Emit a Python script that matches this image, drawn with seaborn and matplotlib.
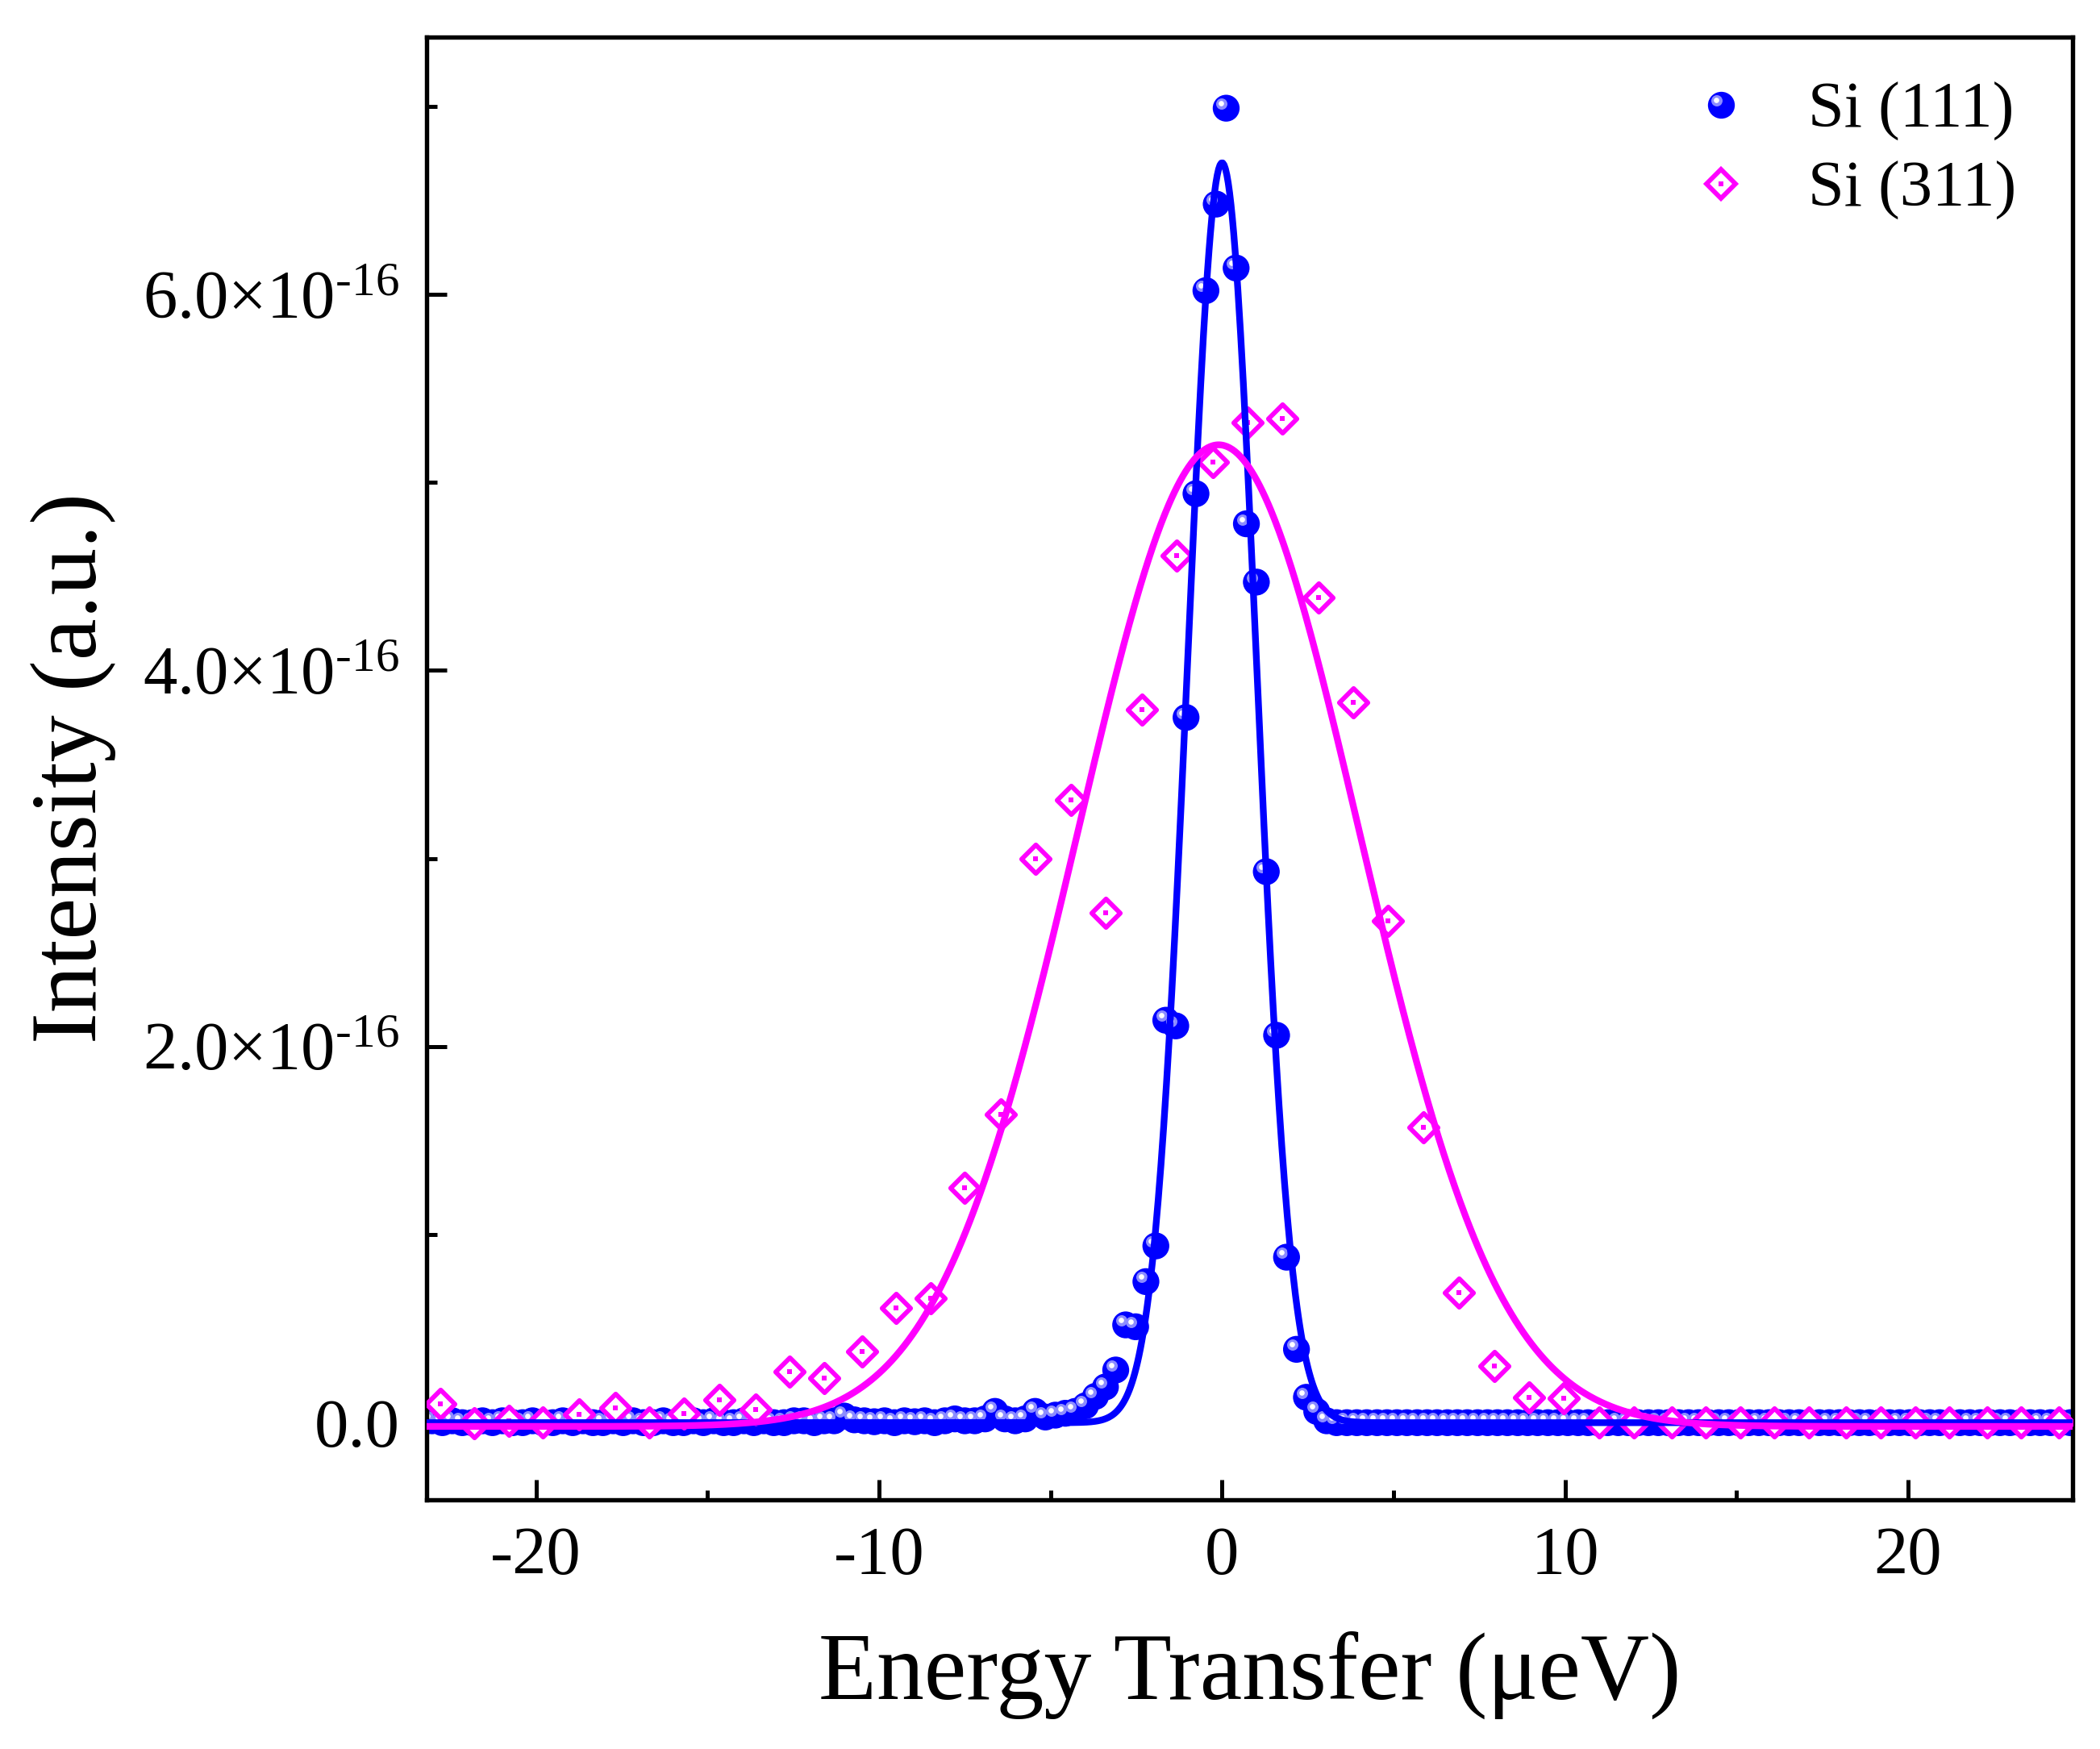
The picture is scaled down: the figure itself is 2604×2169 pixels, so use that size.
import numpy as np
import pandas as pd
import matplotlib
matplotlib.use("Agg")
import matplotlib.pyplot as plt
import seaborn as sns
from matplotlib.path import Path
from matplotlib.lines import Line2D
from matplotlib.ticker import MultipleLocator, AutoMinorLocator, FuncFormatter

# --- Si (111) data (energy in ueV, intensity in units of 1e-16) ---
x_111 = [-23.32, -23.03, -22.73, -22.44, -22.15, -21.86, -21.56, -21.27, -20.98, -20.68,
         -20.39, -20.10, -19.80, -19.51, -19.22, -18.93, -18.63, -18.34, -18.05, -17.75,
         -17.46, -17.17, -16.87, -16.58, -16.29, -16.00, -15.70, -15.41, -15.12, -14.82,
         -14.53, -14.24, -13.94, -13.65, -13.36, -13.07, -12.77, -12.48, -12.19, -11.89,
         -11.60, -11.31, -11.01, -10.72, -10.43, -10.14, -9.84, -9.55, -9.26, -8.96,
         -8.67, -8.38, -8.08, -7.79, -7.50, -7.21, -6.91, -6.62, -6.33, -6.03,
         -5.74, -5.45, -5.15, -4.86, -4.57, -4.28, -3.98, -3.69, -3.40, -3.10,
         -2.81, -2.52, -2.22, -1.93, -1.64, -1.35, -1.05, -0.76, -0.47, -0.17,
         0.12, 0.41, 0.71, 1.00, 1.29, 1.59, 1.88, 2.17, 2.46, 2.76,
         3.05, 3.34, 3.64, 3.93, 4.22, 4.52, 4.81, 5.10, 5.39, 5.69,
         5.98, 6.27, 6.57, 6.86, 7.15, 7.45, 7.74, 8.03, 8.32, 8.62,
         8.91, 9.20, 9.50, 9.79, 10.08, 10.38, 10.67, 10.96, 11.25, 11.55,
         11.84, 12.13, 12.43, 12.72, 13.01, 13.31, 13.60, 13.89, 14.18, 14.48,
         14.77, 15.06, 15.36, 15.65, 15.94, 16.24, 16.53, 16.82, 17.11, 17.41,
         17.70, 17.99, 18.29, 18.58, 18.87, 19.17, 19.46, 19.75, 20.04, 20.34,
         20.63, 20.92, 21.22, 21.51, 21.80, 22.10, 22.39, 22.68, 22.97, 23.27,
         23.56, 23.85, 24.15, 24.44, 24.73]
y_111 = [0.00, 0.01, 0.00, 0.01, 0.00, 0.00, 0.01, 0.00, 0.01, 0.00,
         0.00, 0.01, 0.00, 0.00, 0.01, 0.00, 0.01, 0.00, 0.00, 0.01,
         0.00, 0.01, 0.00, 0.00, 0.01, 0.00, 0.00, 0.01, 0.00, 0.01,
         0.00, 0.00, 0.01, 0.00, 0.01, 0.00, 0.00, 0.01, 0.01, 0.00,
         0.01, 0.01, 0.035, 0.015, 0.01, 0.005, 0.01, 0.00, 0.01, 0.005,
         0.01, 0.00, 0.01, 0.02, 0.01, 0.01, 0.02, 0.06, 0.02, 0.01,
         0.02, 0.06, 0.03, 0.04, 0.05, 0.06, 0.09, 0.14, 0.19, 0.28,
         0.52, 0.51, 0.75, 0.94, 2.14, 2.11, 3.75, 4.94, 6.02, 6.48,
         6.99, 6.14, 4.78, 4.47, 2.93, 2.06, 0.88, 0.39, 0.135, 0.06,
         0.01, 0.00, 0.00, 0.00, 0.00, 0.00, 0.00, 0.00, 0.00, 0.00,
         0.00, 0.00, 0.00, 0.00, 0.00, 0.00, 0.00, 0.00, 0.00, 0.00,
         0.00, 0.00, 0.00, 0.00, 0.00, 0.00, 0.00, 0.00, 0.00, 0.00,
         0.00, 0.00, 0.00, 0.00, 0.00, 0.00, 0.00, 0.00, 0.00, 0.00,
         0.00, 0.00, 0.00, 0.00, 0.00, 0.00, 0.00, 0.00, 0.00, 0.00,
         0.00, 0.00, 0.00, 0.00, 0.00, 0.00, 0.00, 0.00, 0.00, 0.00,
         0.00, 0.00, 0.00, 0.00, 0.00, 0.00, 0.00, 0.00, 0.00, 0.00,
         0.00, 0.00, 0.00, 0.00, 0.00]

# --- Si (311) data ---
x_311 = [-22.8, -21.8, -20.8, -19.8, -18.75, -17.7, -16.7, -15.7, -14.65, -13.6,
         -12.6, -11.6, -10.5, -9.5, -8.5, -7.5, -6.45, -5.43, -4.41, -3.40,
         -2.34, -1.33, -0.27, 0.74, 1.76, 2.81, 3.83, 4.84, 5.86, 6.91,
         7.93, 8.95, 9.96, 11.0, 12.0, 13.1, 14.1, 15.1, 16.1, 17.1,
         18.2, 19.2, 20.2, 21.2, 22.3, 23.3, 24.4]
y_311 = [0.10, -0.005, 0.01, 0.00, 0.045, 0.08, 0.00, 0.05, 0.12, 0.07,
         0.27, 0.235, 0.38, 0.61, 0.66, 1.25, 1.64, 3.00, 3.31, 2.71,
         3.79, 4.61, 5.11, 5.32, 5.34, 4.39, 3.83, 2.67, 1.57, 0.69,
         0.30, 0.135, 0.128, 0.00, 0.00, 0.00, 0.00, 0.00, 0.00, 0.00,
         0.00, 0.00, 0.00, 0.00, 0.00, 0.00, 0.00]

# Gaussian fit parameters: amplitude, centre, sigma, offset
fit_111 = [6.70, 0.00, 1.00, 0.00]
fit_311 = [5.22, -0.10, 4.10, -0.02]

SCALE = 1e-16
BLUE = '#0000ff'
PINK = '#ff00ff'

sns.set_theme(style='ticks')
plt.rcParams['font.family'] = ['Liberation Serif', 'DejaVu Serif']
plt.rcParams['mathtext.fontset'] = 'custom'
plt.rcParams['mathtext.rm'] = 'Liberation Serif'
plt.rcParams['mathtext.default'] = 'regular'
plt.rcParams['text.color'] = 'black'
plt.rcParams['axes.labelcolor'] = 'black'

df111 = pd.DataFrame({'E': x_111, 'I': np.array(y_111) * SCALE})
df311 = pd.DataFrame({'E': x_311, 'I': np.array(y_311) * SCALE})

xfit = np.linspace(-23.2, 24.8, 1200)


def gauss(x, p):
    a, c, s, o = p
    return (a * np.exp(-(x - c) ** 2 / (2 * s ** 2)) + o) * SCALE


fit_df = pd.DataFrame({'E': xfit, 'I111': gauss(xfit, fit_111), 'I311': gauss(xfit, fit_311)})


def spot(cx, cy, r):
    # highlight circle placed off-centre inside the marker box
    box = Path([(-1, -1), (1, 1)], [Path.MOVETO, Path.MOVETO])
    return Path.make_compound_path(box, Path.circle((cx, cy), r))


spot_outer = spot(-0.33, 0.33, 0.42)
spot_inner = spot(-0.36, 0.36, 0.2)
BALL = 8.0
DIA = 6.0

fig, ax = plt.subplots(figsize=(2604 / 300, 2169 / 300), dpi=300)
fig.subplots_adjust(left=0.203, right=0.987, top=0.979, bottom=0.1425)

sns.scatterplot(data=df111, x='E', y='I', ax=ax, color=BLUE, s=BALL ** 2,
                linewidth=0, edgecolor='none', zorder=2, legend=False)
ax.plot(df111.E, df111.I, ls='none', marker=spot_outer, ms=BALL, mfc='#8c8cff',
        mew=0, zorder=2.1)
ax.plot(df111.E, df111.I, ls='none', marker=spot_inner, ms=BALL, mfc='white',
        mew=0, zorder=2.2)

sns.scatterplot(data=df311, x='E', y='I', ax=ax, marker='D', s=DIA ** 2,
                facecolor='white', edgecolor=PINK, linewidth=1.4, zorder=3, legend=False)
ax.plot(df311.E, df311.I, ls='none', marker='s', ms=1.6, mfc=PINK, mew=0, zorder=3.1)

sns.lineplot(data=fit_df, x='E', y='I111', ax=ax, color=BLUE, lw=2.0, zorder=4)
sns.lineplot(data=fit_df, x='E', y='I311', ax=ax, color=PINK, lw=2.0, zorder=5)

ax.set_xlim(-23.2, 24.8)
ax.set_ylim(-0.41e-16, 7.37e-16)

ax.xaxis.set_major_locator(MultipleLocator(10))
ax.xaxis.set_minor_locator(AutoMinorLocator(2))
ax.yaxis.set_major_locator(MultipleLocator(2e-16))
ax.yaxis.set_minor_locator(AutoMinorLocator(2))


def yfmt(v, pos):
    if abs(v) < 1e-20:
        return '0.0'
    return '%.1f×10$^{\\text{-16}}$' % (v / SCALE)


ax.yaxis.set_major_formatter(FuncFormatter(yfmt))
ax.xaxis.set_major_formatter(FuncFormatter(lambda v, p: '%d' % round(v)))

ax.tick_params(which='both', direction='in', top=False, right=False, width=1.2,
               labelsize=20.3, color='black', labelcolor='black')
ax.tick_params(which='major', length=6, pad=8)
ax.tick_params(which='minor', length=3)
for sp in ax.spines.values():
    sp.set_visible(True)
    sp.set_linewidth(1.3)
    sp.set_color('black')

ax.set_xlabel('Energy Transfer (μeV)', fontsize=28.3, labelpad=12.5)
ax.set_ylabel('Intensity (a.u.)', fontsize=28, labelpad=8)

h111 = (Line2D([], [], ls='none', marker='o', ms=BALL, mfc=BLUE, mew=0),
        Line2D([], [], ls='none', marker=spot_outer, ms=BALL, mfc='#8c8cff', mew=0),
        Line2D([], [], ls='none', marker=spot_inner, ms=BALL, mfc='white', mew=0))
h311 = (Line2D([], [], ls='none', marker='D', ms=DIA, mfc='white', mec=PINK, mew=1.4),
        Line2D([], [], ls='none', marker='s', ms=1.6, mfc=PINK, mew=0))
ax.legend([h111, h311], ['Si (111)', 'Si (311)'], loc='upper right',
          bbox_to_anchor=(0.966, 0.969), frameon=False, fontsize=19.3,
          handlelength=1.0, handletextpad=0.85, labelspacing=0.3,
          borderpad=0, borderaxespad=0)

fig.savefig('out.png', dpi=300)
